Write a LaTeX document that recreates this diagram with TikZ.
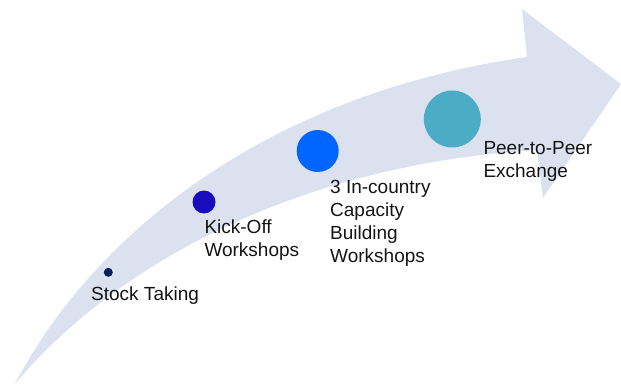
\documentclass[tikz,border=0pt]{standalone}
\usepackage{fontspec}
\setmainfont{Liberation Sans}
\definecolor{bandcol}{RGB}{220,225,240}
\definecolor{dotA}{RGB}{0,32,96}
\definecolor{dotB}{RGB}{24,12,190}
\definecolor{dotC}{RGB}{0,102,255}
\definecolor{dotD}{RGB}{75,172,198}
\definecolor{txt}{RGB}{20,20,20}
\begin{document}
\begin{tikzpicture}[x=1pt,y=-1pt,
  dot/.style={circle,inner sep=0pt,draw=none},
  lbl/.style={anchor=north west,inner sep=0pt,align=left,text=txt,
    font=\fontsize{19}{23}\selectfont}]
\path[use as bounding box] (0,0) rectangle (621,385);
% curved arrow band
\fill[bandcol] (15,384) .. controls (90,240) and (260,95) .. (527,57)
  -- (522,9) -- (621,84) -- (543,198) -- (537,150)
  .. controls (290,165) and (110,270) .. (15,384) -- cycle;
% milestones
\node[dot,fill=dotA,minimum size=9pt] (d1) at (108.3,272.3) {};
\node[dot,fill=dotB,minimum size=23pt] (d2) at (204,202) {};
\node[dot,fill=dotC,minimum size=42pt] (d3) at (317.7,151) {};
\node[dot,fill=dotD,minimum size=57pt] (d4) at (452.3,119) {};
% labels
\node[lbl] (t1) at (91,286.4) {Stock Taking};
\node[lbl] (t2) at (204.3,219.7) {Kick-Off\\Workshops};
\node[lbl] (t3) at (330,179.7) {3 In-country\\Capacity\\Building\\Workshops};
\node[lbl] (t4) at (483.3,141.4) {Peer-to-Peer\\Exchange};
\end{tikzpicture}
\end{document}
